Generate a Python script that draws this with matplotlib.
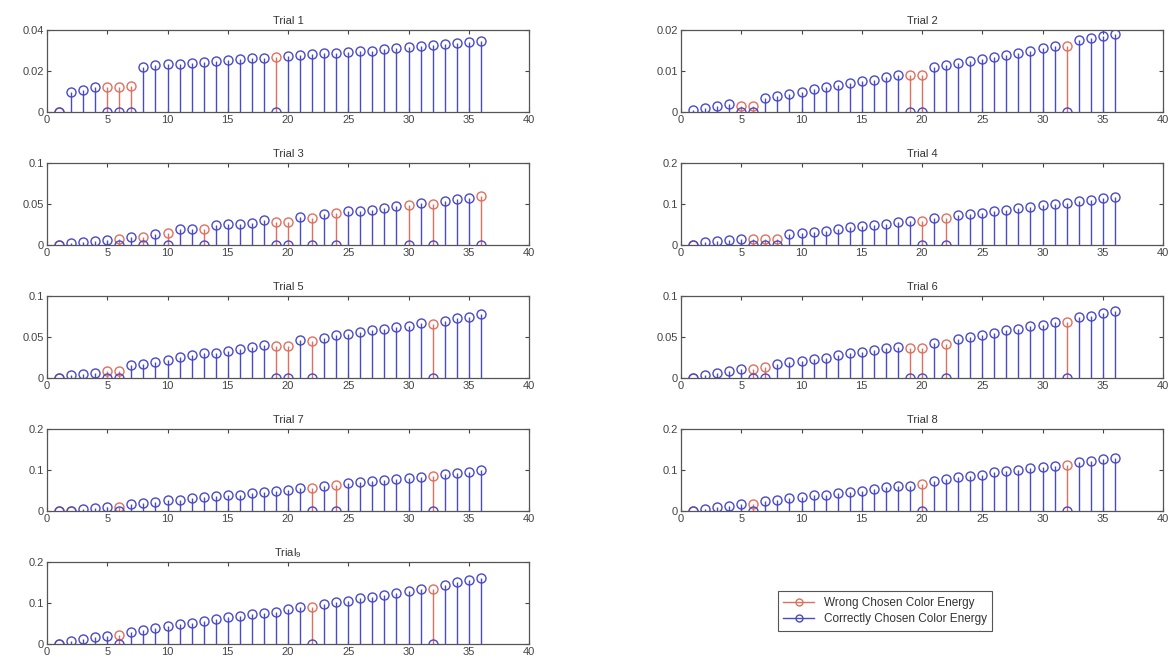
import numpy as np
import matplotlib
matplotlib.use("Agg")
import matplotlib.pyplot as plt
from matplotlib.lines import Line2D
from matplotlib.legend_handler import HandlerLine2D

plt.rcParams['font.family'] = ['Liberation Sans', 'DejaVu Sans']
plt.rcParams['mathtext.fontset'] = 'custom'
plt.rcParams['mathtext.rm'] = 'Liberation Sans'

# energy per sample, trials 1..9 (36 samples each)
trial1 = [0.0, 0.010, 0.0105, 0.012, 0.012, 0.012, 0.0125, 0.022, 0.023, 0.0235, 0.0235, 0.024,
          0.0245, 0.025, 0.0255, 0.026, 0.0265, 0.0265, 0.027, 0.0275, 0.028, 0.0285, 0.029, 0.029,
          0.0295, 0.030, 0.030, 0.0305, 0.031, 0.0315, 0.032, 0.0325, 0.033, 0.0335, 0.034, 0.0345]
trial2 = [0.0005, 0.001, 0.0015, 0.002, 0.0015, 0.0015, 0.0035, 0.004, 0.0045, 0.005, 0.0055, 0.006,
          0.0065, 0.007, 0.0075, 0.0078, 0.0085, 0.009, 0.009, 0.009, 0.011, 0.0115, 0.012, 0.0125,
          0.013, 0.0135, 0.014, 0.0145, 0.015, 0.0155, 0.016, 0.016, 0.0175, 0.018, 0.0185, 0.019]
trial3 = [0.0, 0.003, 0.004, 0.005, 0.006, 0.007, 0.010, 0.010, 0.014, 0.015, 0.019, 0.020,
          0.020, 0.024, 0.025, 0.026, 0.027, 0.030, 0.028, 0.028, 0.034, 0.033, 0.038, 0.039,
          0.041, 0.042, 0.043, 0.045, 0.047, 0.049, 0.051, 0.050, 0.054, 0.056, 0.057, 0.060]
trial4 = [0.0, 0.008, 0.010, 0.012, 0.014, 0.014, 0.014, 0.014, 0.028, 0.030, 0.032, 0.035,
          0.040, 0.043, 0.046, 0.048, 0.052, 0.055, 0.058, 0.058, 0.066, 0.066, 0.072, 0.076,
          0.078, 0.082, 0.086, 0.090, 0.093, 0.097, 0.100, 0.103, 0.108, 0.110, 0.114, 0.117]
trial5 = [0.0, 0.004, 0.005, 0.006, 0.008, 0.008, 0.016, 0.017, 0.019, 0.022, 0.026, 0.028,
          0.030, 0.031, 0.033, 0.035, 0.038, 0.040, 0.039, 0.039, 0.046, 0.045, 0.049, 0.052,
          0.054, 0.056, 0.058, 0.060, 0.062, 0.064, 0.067, 0.066, 0.070, 0.073, 0.075, 0.078]
trial6 = [0.0, 0.004, 0.006, 0.008, 0.011, 0.011, 0.014, 0.017, 0.019, 0.021, 0.023, 0.025,
          0.028, 0.030, 0.032, 0.034, 0.036, 0.038, 0.037, 0.037, 0.043, 0.042, 0.047, 0.050,
          0.052, 0.055, 0.058, 0.060, 0.063, 0.065, 0.068, 0.068, 0.074, 0.076, 0.079, 0.082]
trial7 = [0.0, 0.0, 0.005, 0.008, 0.010, 0.010, 0.018, 0.020, 0.023, 0.026, 0.028, 0.031,
          0.034, 0.036, 0.038, 0.040, 0.043, 0.046, 0.049, 0.052, 0.055, 0.057, 0.062, 0.064,
          0.068, 0.070, 0.072, 0.075, 0.078, 0.081, 0.084, 0.085, 0.090, 0.093, 0.096, 0.099]
trial8 = [0.0, 0.006, 0.009, 0.011, 0.016, 0.017, 0.024, 0.027, 0.031, 0.035, 0.038, 0.040,
          0.043, 0.046, 0.050, 0.053, 0.058, 0.060, 0.062, 0.065, 0.074, 0.078, 0.083, 0.086,
          0.089, 0.095, 0.098, 0.100, 0.104, 0.107, 0.110, 0.112, 0.120, 0.123, 0.127, 0.130]
trial9 = [0.0, 0.008, 0.012, 0.016, 0.020, 0.023, 0.030, 0.034, 0.038, 0.043, 0.048, 0.052,
          0.056, 0.060, 0.065, 0.069, 0.073, 0.075, 0.079, 0.085, 0.090, 0.090, 0.098, 0.102,
          0.106, 0.111, 0.115, 0.120, 0.125, 0.130, 0.134, 0.135, 0.145, 0.151, 0.155, 0.160]

# samples where the wrong color was chosen (1-based)
wrong1 = [1, 5, 6, 7, 19]
wrong2 = [5, 6, 19, 20, 32]
wrong3 = [1, 6, 8, 10, 13, 19, 20, 22, 24, 30, 32, 36]
wrong4 = [1, 6, 7, 8, 20, 22]
wrong5 = [1, 5, 6, 19, 20, 22, 32]
wrong6 = [1, 6, 7, 19, 20, 22, 32]
wrong7 = [1, 2, 6, 22, 24, 32]
wrong8 = [1, 6, 20, 32]
wrong9 = [1, 6, 22, 32]

ylims = [0.04, 0.02, 0.1, 0.2, 0.1, 0.1, 0.2, 0.2, 0.2]
titles = ['Trial 1', 'Trial 2', 'Trial 3', 'Trial 4', 'Trial 5', 'Trial 6',
          'Trial 7', 'Trial 8', 'Trial$_9$']

trials = [trial1, trial2, trial3, trial4, trial5, trial6, trial7, trial8, trial9]
wrongs = [wrong1, wrong2, wrong3, wrong4, wrong5, wrong6, wrong7, wrong8, wrong9]

RED = '#e0705e'
BLUE = '#4a4ac8'


class MarkerAtEnd(HandlerLine2D):
    # matlab style legend entry: line with the marker on its right end
    def get_xdata(self, legend, xdescent, ydescent, width, height, fontsize):
        return [-xdescent, -xdescent + width], [-xdescent + width]


W, H = 1168, 664
fig = plt.figure(figsize=(W / 100, H / 100), dpi=100)

tops = [30, 163, 296, 429, 562]
ax_h = 82
ax_w = 482
lefts = [47, 681]

for i in range(9):
    row, col = i // 2, i % 2
    ax = fig.add_axes([lefts[col] / W, 1 - (tops[row] + ax_h) / H, ax_w / W, ax_h / H])
    vals = np.array(trials[i])
    x = np.arange(1, 37)
    wr = np.array(wrongs[i])
    correct = vals.copy()
    correct[wr - 1] = 0.0

    ml, sl, bl = ax.stem(wr, vals[wr - 1], linefmt='-', markerfmt='o', basefmt=' ')
    plt.setp(sl, color=RED, linewidth=1.0)
    plt.setp(ml, markerfacecolor='none', markeredgecolor=RED, markersize=6.5, markeredgewidth=1.0)
    ml, sl, bl = ax.stem(x, correct, linefmt='-', markerfmt='o', basefmt=' ')
    plt.setp(sl, color=BLUE, linewidth=1.0)
    plt.setp(ml, markerfacecolor='none', markeredgecolor=BLUE, markersize=6.5, markeredgewidth=1.0)

    ax.set_xlim(0, 40)
    ax.set_ylim(0, ylims[i])
    ax.set_xticks(range(0, 41, 5))
    ax.set_yticks([0, ylims[i] / 2, ylims[i]])
    ax.set_yticklabels(['0', f'{ylims[i] / 2:g}', f'{ylims[i]:g}'])
    ax.tick_params(direction='in', top=True, right=True, labelsize=8,
                   colors='#444444', length=3, width=0.8, pad=2)
    for s in ax.spines.values():
        s.set_color('#555555')
        s.set_linewidth(0.9)
    ax.set_title(titles[i], fontsize=8, color='#333333', pad=4)

h_wrong = Line2D([0, 1], [0, 0], color=RED, marker='o', markerfacecolor='none',
                 markeredgecolor=RED, markersize=5, linewidth=1.0)
h_right = Line2D([0, 1], [0, 0], color=BLUE, marker='o', markerfacecolor='none',
                 markeredgecolor=BLUE, markersize=5, linewidth=1.0)
leg = fig.legend([h_wrong, h_right], ['Wrong Chosen Color Energy', 'Correctly Chosen Color Energy'],
                 loc='center', bbox_to_anchor=(885 / W, 1 - 611 / H), fontsize=8.5,
                 handler_map={Line2D: MarkerAtEnd()},
                 fancybox=False, framealpha=1, edgecolor='#555555',
                 handlelength=2.6, borderpad=0.5, labelspacing=0.35)
leg.get_frame().set_linewidth(0.8)
for t in leg.get_texts():
    t.set_color('#333333')

fig.savefig('out.png', dpi=100)
